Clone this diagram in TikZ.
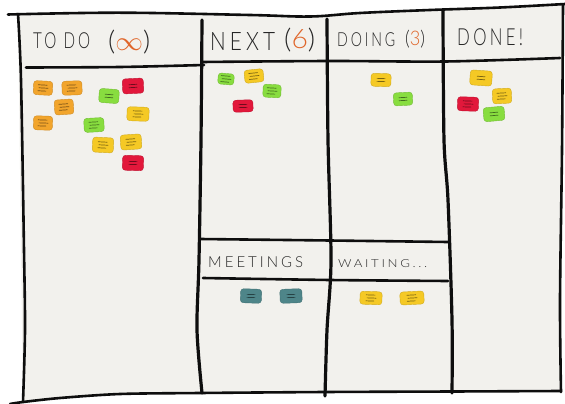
\documentclass[tikz,border=0pt]{standalone}
\usepackage{fontspec}
\setmainfont{Carlito}
\newfontfamily\handfont[LetterSpace=20]{Lato Light}
\usepackage{graphicx}
\usepackage{tikz}

\definecolor{paper}{HTML}{F2F1ED}
\definecolor{ink}{HTML}{0E0E0E}
\definecolor{pen}{HTML}{262626}
\definecolor{numorange}{HTML}{E0662A}
\definecolor{postorange}{HTML}{F2A52C}
\definecolor{postyellow}{HTML}{F5C925}
\definecolor{postgreen}{HTML}{88DD3F}
\definecolor{postred}{HTML}{E2183B}
\definecolor{postteal}{HTML}{4E8589}

% squeeze a heading into a given width and height (pt)
\newcommand{\hand}[3]{\resizebox*{#1pt}{#2pt}{\handfont #3}}

\tikzset{
  boardline/.style={draw=ink, line width=2.6pt, line cap=round, line join=round},
  divider/.style={boardline, line width=3.2pt},
  heading/.style={anchor=north west, inner sep=0pt, text=pen},
  scribble/.style={draw=black, opacity=0.5, line width=0.7pt, line cap=round},
  sticky/.style={fill=#1, draw=#1!85!black, line width=0.4pt, rounded corners=3pt,
    minimum width=19pt, minimum height=14pt, inner sep=0pt},
  lines3/.style={path picture={
    \draw[scribble] ([xshift=-5pt,yshift=3pt]path picture bounding box.center) -- ++(9pt,0pt);
    \draw[scribble] ([xshift=-4pt]path picture bounding box.center) -- ++(9pt,0pt);
    \draw[scribble] ([xshift=-5pt,yshift=-3pt]path picture bounding box.center) -- ++(8pt,0pt);}},
  lines2/.style={path picture={
    \draw[scribble] ([xshift=-4pt,yshift=1.5pt]path picture bounding box.center) -- ++(8pt,0pt);
    \draw[scribble] ([xshift=-4pt,yshift=-1.5pt]path picture bounding box.center) -- ++(8pt,0pt);}}
}

\begin{document}
\begin{tikzpicture}[x=1pt, y=-1pt]
    \useasboundingbox (0,0) rectangle (565,404);
    \fill[white] (0,0) rectangle (565,404);

    % Board
    \fill[paper] (18,14) -- (120,12.7) -- (250,15) -- (310,16.5) -- (360,13) -- (430,10) -- (500,7.5) -- (563,4.5)
        -- (561,391) -- (452,391.5) -- (325,392) -- (200,393) -- (120,394) -- (60,398) -- (23,402) -- cycle;
    \draw[boardline] plot[smooth, tension=0.6] coordinates {(8,14.5) (120,12.7) (250,15) (310,16.5) (360,13) (430,10) (500,7.5) (565,4)};
    \draw[boardline] plot[smooth] coordinates {(18,14) (21,80) (24,250) (25,330) (23,402)};
    \draw[boardline] plot[smooth] coordinates {(10,404) (23,402) (60,398) (120,394) (200,393) (325,392) (452,391.5) (561,391)};
    \draw[boardline] plot[smooth] coordinates {(563,5) (562,150) (560,300) (561,392)};

    % Columns
    \draw[divider] plot[smooth] coordinates {(202,20) (201,140) (199,260) (197,330) (202,393)};
    \draw[divider] plot[smooth] coordinates {(327,19) (328,140) (331,260) (327,330) (325,396)};
    \draw[divider] plot[smooth] coordinates {(443,11) (444,140) (448,200) (452,320) (452,393)};

    % Header rules
    \draw[boardline] plot[smooth] coordinates {(26,67.5) (120,67) (204,65)};
    \draw[boardline] plot[smooth] coordinates {(202,62) (330,61) (445,61.5) (560,58)};
    \draw[boardline] plot[smooth] coordinates {(200,239) (330,240.5) (448,242)};
    \draw[boardline] plot[smooth] coordinates {(203,278) (330,280) (448,281)};

    % Headings
    \node[heading] (todo) at (33,32) {\hand{57}{16}{TO DO}};
    \node[heading] (todolimit) at (108,30) {\hand{42}{24}{(\textcolor{numorange}{$\infty$})}};
    \node[heading] (next) at (210,32) {\hand{65}{18}{NEXT}};
    \node[heading] (nextlimit) at (284,28) {\hand{31}{24}{(\textcolor{numorange}{6})}};
    \node[heading] (doing) at (337,32) {\hand{58}{14}{DOING}};
    \node[heading] (doinglimit) at (405,30) {\hand{20}{18}{(\textcolor{numorange}{3})}};
    \node[heading] (done) at (457,28) {\hand{66}{17}{DONE!}};
    \node[heading] (meetings) at (208,256) {\hand{95}{11}{MEETINGS}};
    \node[heading] (waiting) at (338,259) {\hand{89}{8}{WAITING...}};

    % Notes: to do
    \node[sticky=postorange, lines3, rotate=-3] (todo1) at (43,88) {};
    \node[sticky=postorange, lines3, minimum width=20pt, rotate=2] (todo2) at (72,88) {};
    \node[sticky=postorange, lines3, minimum height=15pt, rotate=4] (todo3) at (64,107) {};
    \node[sticky=postorange, lines3, rotate=-2] (todo4) at (43,123) {};
    \node[sticky=postgreen, lines2, minimum width=20pt, rotate=-4] (todo5) at (109,96) {};
    \node[sticky=postred, lines2, minimum width=21pt, minimum height=15pt, rotate=3] (todo6) at (133,86) {};
    \node[sticky=postyellow, lines3, minimum width=22pt, rotate=-2] (todo7) at (138,114) {};
    \node[sticky=postgreen, lines3, minimum width=20pt, rotate=3] (todo8) at (94,125) {};
    \node[sticky=postyellow, lines3, minimum width=21pt, minimum height=15pt, rotate=-3] (todo9) at (103,145) {};
    \node[sticky=postyellow, lines3, minimum width=21pt, minimum height=15pt, rotate=4] (todo10) at (131,142) {};
    \node[sticky=postred, lines2, minimum width=21pt, minimum height=15pt, rotate=-2] (todo11) at (133,163) {};

    % Notes: next
    \node[sticky=postgreen, lines3, minimum width=16pt, minimum height=11pt, rotate=-5] (next1) at (226,79) {};
    \node[sticky=postyellow, lines3, minimum height=13pt, rotate=6] (next2) at (254,76) {};
    \node[sticky=postgreen, lines3, minimum width=18pt, minimum height=13pt, rotate=-3] (next3) at (272,91) {};
    \node[sticky=postred, lines2, minimum width=20pt, minimum height=12pt, rotate=2] (next4) at (243,106) {};

    % Notes: doing
    \node[sticky=postyellow, lines2, minimum width=20pt, minimum height=13pt, rotate=-2] (doing1) at (381,80) {};
    \node[sticky=postgreen, lines2, minimum height=13pt, rotate=3] (doing2) at (403,99) {};

    % Notes: done
    \node[sticky=postyellow, lines2, minimum width=22pt, minimum height=15pt, rotate=-4] (done1) at (481,78) {};
    \node[sticky=postyellow, lines3, minimum height=15pt, rotate=3] (done2) at (502,96) {};
    \node[sticky=postred, lines3, minimum width=21pt, rotate=-2] (done3) at (468,104) {};
    \node[sticky=postgreen, lines2, minimum width=21pt, rotate=5] (done4) at (494,114) {};

    % Notes: meetings and waiting
    \node[sticky=postteal, lines2, minimum width=21pt, rotate=-2] (meeting1) at (251,296) {};
    \node[sticky=postteal, lines2, minimum width=22pt, rotate=2] (meeting2) at (291,296) {};
    \node[sticky=postyellow, lines3, minimum width=22pt, minimum height=13pt, rotate=-2] (waiting1) at (371,298) {};
    \node[sticky=postyellow, lines3, minimum width=24pt, minimum height=13pt, rotate=3] (waiting2) at (412,298) {};
\end{tikzpicture}
\end{document}
